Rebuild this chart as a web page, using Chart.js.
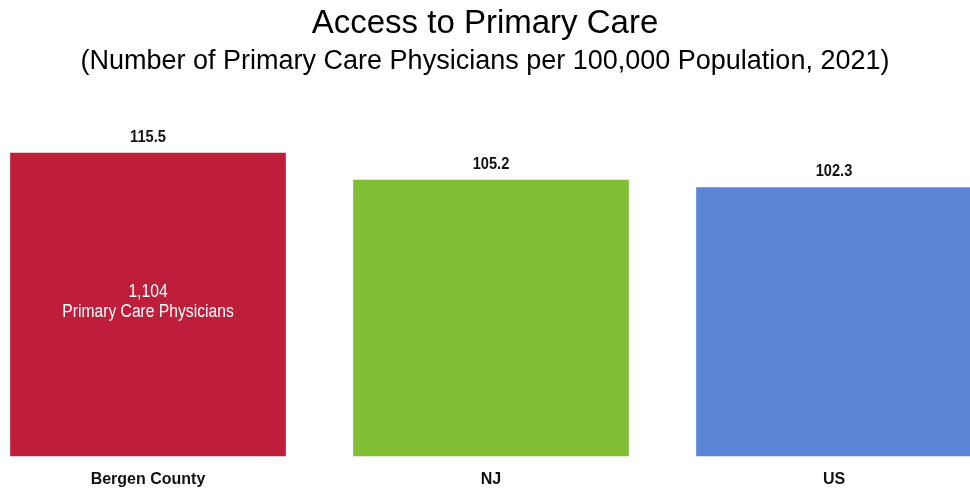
<!DOCTYPE html>
<html>
<head>
<meta charset="utf-8">
<script src="https://cdn.jsdelivr.net/npm/chart.js@4"></script>
<style>
  html, body { margin: 0; padding: 0; background: #fff; }
  #wrap { width: 970px; height: 493px; }
</style>
</head>
<body>
<div id="wrap"><canvas id="chart"></canvas></div>
<script>
const categories = ['Bergen County', 'NJ', 'US'];
const rates = [115.5, 105.2, 102.3];
const barColors = ['#BE1E39', '#80BE33', '#5B85D6'];
const innerNotes = [['1,104', 'Primary Care Physicians'], null, null];

const sans = '"Liberation Sans", Arial, sans-serif';

// squeeze text a bit to get closer to the narrow face in the original
function narrowText(ctx, text, x, y, squeeze) {
    ctx.save();
    ctx.translate(x, y);
    ctx.scale(squeeze, 1);
    ctx.fillText(text, 0, 0);
    ctx.restore();
}

// value labels above bars + the note inside the first bar
const labelPlugin = {
    id: 'barLabels',
    afterDatasetsDraw(chart) {
        const ctx = chart.ctx;
        const meta = chart.getDatasetMeta(0);
        ctx.save();
        ctx.textAlign = 'center';
        ctx.textBaseline = 'alphabetic';
        meta.data.forEach((bar, i) => {
            ctx.fillStyle = '#111';
            ctx.font = 'bold 17px ' + sans;
            narrowText(ctx, rates[i].toFixed(1), bar.x, bar.y - 11.5, 0.86);

            const note = innerNotes[i];
            if (note) {
                const mid = (bar.y + bar.base) / 2;
                ctx.fillStyle = '#fff';
                ctx.font = '18px ' + sans;
                narrowText(ctx, note[0], bar.x, mid - 7.5, 0.87);
                narrowText(ctx, note[1], bar.x, mid + 12.5, 0.87);
            }
        });
        ctx.restore();
    }
};

new Chart(document.getElementById('chart'), {
    type: 'bar',
    data: {
        labels: categories,
        datasets: [{
            data: rates,
            backgroundColor: barColors,
            borderWidth: 0,
            barThickness: 275,
            clip: false
        }]
    },
    options: {
        responsive: true,
        maintainAspectRatio: false,
        animation: false,
        layout: { padding: 0 },
        plugins: {
            legend: { display: false },
            tooltip: { enabled: false },
            title: {
                display: true,
                text: 'Access to Primary Care',
                color: '#000',
                font: { family: sans, size: 33, weight: 'normal' },
                padding: { top: 4, bottom: 2 }
            },
            subtitle: {
                display: true,
                text: '(Number of Primary Care Physicians per 100,000 Population, 2021)',
                color: '#000',
                font: { family: sans, size: 27, weight: 'normal' },
                padding: { top: 0, bottom: 37 }
            }
        },
        scales: {
            x: {
                offset: false,
                grid: { display: false },
                border: { display: false },
                // bar centres sit at 148 / 491 / 834, so push the plot edges in
                afterFit: (scale) => {
                    scale.height = 37;
                    scale.paddingLeft = 148;
                    scale.paddingRight = 136;
                },
                ticks: {
                    color: '#111',
                    padding: 6,
                    maxRotation: 0,
                    font: { family: sans, size: 16, weight: 'bold' }
                }
            },
            y: {
                display: false,
                min: 0,
                max: 130
            }
        }
    },
    plugins: [labelPlugin]
});
</script>
</body>
</html>
